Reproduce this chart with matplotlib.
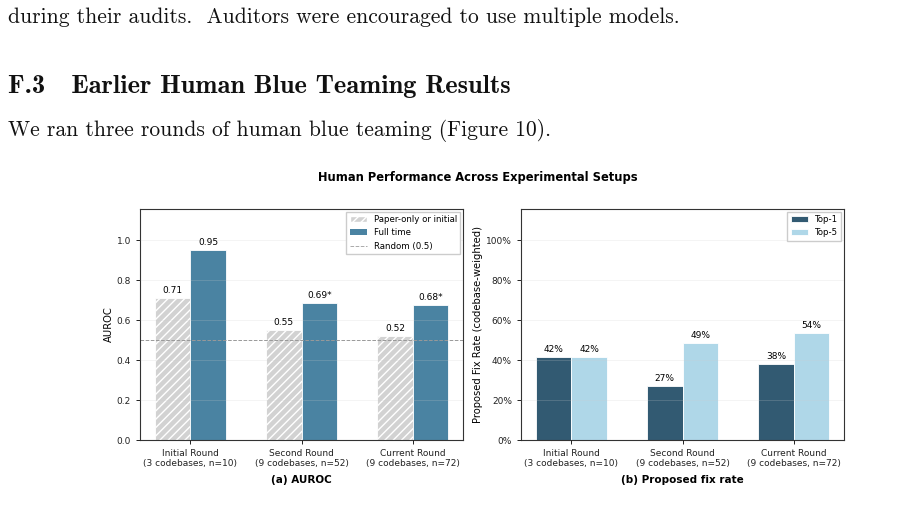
import numpy as np
import matplotlib
matplotlib.use("Agg")
import matplotlib.pyplot as plt
from matplotlib.patches import Patch
from matplotlib.lines import Line2D

# Data
rounds = ["Initial Round\n(3 codebases, n=10)",
          "Second Round\n(9 codebases, n=52)",
          "Current Round\n(9 codebases, n=72)"]
auroc_paper = [0.71, 0.55, 0.52]
auroc_full = [0.95, 0.687, 0.677]
auroc_paper_labels = ["0.71", "0.55", "0.52"]
auroc_full_labels = ["0.95", "0.69*", "0.68*"]
fix_top1 = [41.7, 27.1, 37.8]
fix_top5 = [41.7, 48.6, 53.6]

body_line1 = "during their audits.  Auditors were encouraged to use multiple models."
heading = "F.3   Earlier Human Blue Teaming Results"
body_line2 = "We ran three rounds of human blue teaming (Figure 10)."

c_gray = "#d2d2d2"
c_blue = "#4a83a2"
c_dark = "#325a72"
c_light = "#afd7e8"

plt.rcParams["font.family"] = "DejaVu Sans"
plt.rcParams["hatch.color"] = "white"
plt.rcParams["hatch.linewidth"] = 1.0

fig = plt.figure(figsize=(9.03, 5.15), dpi=100)

# paper text around the figure
fig.text(8 / 903, 1 - 17 / 515, body_line1, fontfamily="cmr10", fontsize=15.5,
         va="center", ha="left", color="#111111")
fig.text(8 / 903, 1 - 87 / 515, heading, fontfamily="cmb10", fontsize=19,
         va="center", ha="left", color="#111111")
fig.text(8 / 903, 1 - 130 / 515, body_line2, fontfamily="cmr10", fontsize=15.5,
         va="center", ha="left", color="#111111")

fig.text(478 / 903, 1 - 177 / 515, "Human Performance Across Experimental Setups",
         fontsize=8.3, fontweight="bold", ha="center", va="center")

ax1 = fig.add_axes([140 / 903, 75 / 515, 323 / 903, 231 / 515])
ax2 = fig.add_axes([521 / 903, 75 / 515, 323 / 903, 231 / 515])

x = np.arange(len(rounds))
w = 0.32


def style(ax):
    ax.set_axisbelow(False)
    ax.grid(axis="y", color="#cccccc", linewidth=0.7, alpha=0.22)
    for s in ax.spines.values():
        s.set_color("#333333")
        s.set_linewidth(0.8)
    ax.tick_params(labelsize=6.5, colors="#222222", length=3, width=0.7)
    ax.set_xticks(x)
    ax.set_xticklabels(rounds, fontsize=6.5)


# (a) AUROC
b1 = ax1.bar(x - w / 2, auroc_paper, w, color=c_gray, hatch="////",
             edgecolor="white", linewidth=0.6)
b2 = ax1.bar(x + w / 2, auroc_full, w, color=c_blue, edgecolor="white",
             linewidth=0.6)
ax1.axhline(0.5, color="#999999", linestyle="--", linewidth=0.7)
for r, t in zip(b1, auroc_paper_labels):
    ax1.text(r.get_x() + r.get_width() / 2, r.get_height() + 0.015, t,
             ha="center", va="bottom", fontsize=6.5)
for r, t in zip(b2, auroc_full_labels):
    ax1.text(r.get_x() + r.get_width() / 2, r.get_height() + 0.015, t,
             ha="center", va="bottom", fontsize=6.5)
ax1.set_ylim(0, 1.155)
ax1.set_yticks(np.arange(0, 1.01, 0.2))
ax1.set_yticklabels([f"{v:.1f}" for v in np.arange(0, 1.01, 0.2)])
ax1.set_ylabel("AUROC", fontsize=7.2, labelpad=2)
style(ax1)
handles = [Patch(facecolor=c_gray, hatch="////", edgecolor="white"),
           Patch(facecolor=c_blue),
           Line2D([0], [0], color="#aaaaaa", linestyle="--", linewidth=0.7)]
ax1.legend(handles, ["Paper-only or initial", "Full time", "Random (0.5)"],
           loc="upper right", fontsize=6.2, framealpha=1, edgecolor="#cccccc",
           fancybox=False, handlelength=2, borderaxespad=0.3)
ax1.set_xlabel("(a) AUROC", fontsize=7.5, fontweight="bold", labelpad=5)

# (b) Proposed fix rate
c1 = ax2.bar(x - w / 2, fix_top1, w, color=c_dark, edgecolor="white",
             linewidth=0.6, label="Top-1")
c2 = ax2.bar(x + w / 2, fix_top5, w, color=c_light, edgecolor="white",
             linewidth=0.6, label="Top-5")
for bars in (c1, c2):
    for r in bars:
        ax2.text(r.get_x() + r.get_width() / 2, r.get_height() + 1.5,
                 f"{r.get_height():.0f}%", ha="center", va="bottom", fontsize=6.5)
ax2.set_ylim(0, 115.5)
ax2.set_yticks(np.arange(0, 101, 20))
ax2.set_yticklabels([f"{v}%" for v in range(0, 101, 20)])
ax2.set_ylabel("Proposed Fix Rate (codebase-weighted)", fontsize=7.2, labelpad=2)
style(ax2)
ax2.legend(loc="upper right", fontsize=6.2, framealpha=1, edgecolor="#cccccc",
           fancybox=False, borderaxespad=0.3)
ax2.set_xlabel("(b) Proposed fix rate", fontsize=7.5, fontweight="bold", labelpad=5)

fig.savefig("out.png", dpi=100)
